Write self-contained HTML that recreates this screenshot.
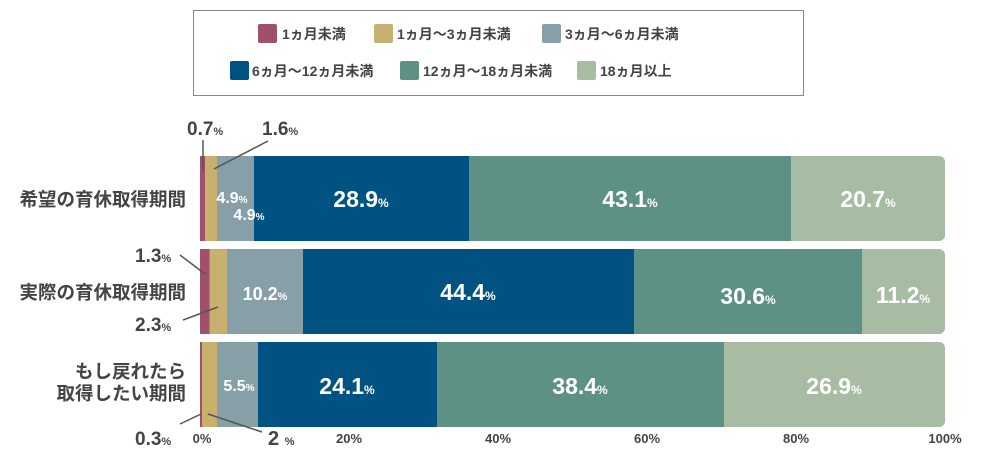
<!DOCTYPE html>
<html><head><meta charset="utf-8"><style>
body{margin:0;background:#fff;}
svg{display:block;font-family:"Liberation Sans","Noto Sans CJK JP",sans-serif;}
.l{font-size:18.5px;font-weight:bold;fill:#444;}
.lg{font-size:14px;font-weight:bold;fill:#444;}
.v{font-weight:bold;fill:#fff;}
.o{font-weight:bold;fill:#444;}
.ax{font-size:13px;font-weight:bold;fill:#444;}
</style></head><body>
<svg width="1000" height="450" viewBox="0 0 1000 450">
<defs>
<clipPath id="c1"><path d="M200 156H939a6 6 0 0 1 6 6V235a6 6 0 0 1-6 6H200Z"/></clipPath>
<clipPath id="c2"><path d="M200 249H939a6 6 0 0 1 6 6V328a6 6 0 0 1-6 6H200Z"/></clipPath>
<clipPath id="c3"><path d="M200 342H939a6 6 0 0 1 6 6V421a6 6 0 0 1-6 6H200Z"/></clipPath>
</defs>
<rect x="193.5" y="10.5" width="610" height="85" fill="#fff" stroke="#888"/>
<g class="lg">
<rect x="258" y="24" width="19" height="19" rx="2" fill="#a0506a"/><text x="282" y="39">1ヵ月未満</text>
<rect x="374" y="24" width="19" height="19" rx="2" fill="#c8b06e"/><text x="397" y="39">1ヵ月〜3ヵ月未満</text>
<rect x="542" y="24" width="19" height="19" rx="2" fill="#87a0a8"/><text x="565" y="39">3ヵ月〜6ヵ月未満</text>
<rect x="230" y="61" width="19" height="19" rx="2" fill="#005282"/><text x="252" y="76">6ヵ月〜12ヵ月未満</text>
<rect x="400" y="61" width="19" height="19" rx="2" fill="#5e9185"/><text x="423" y="76">12ヵ月〜18ヵ月未満</text>
<rect x="577" y="61" width="19" height="19" rx="2" fill="#a8bba3"/><text x="600" y="76">18ヵ月以上</text>
</g>
<g clip-path="url(#c1)">
<rect x="200" y="156" width="5" height="85" fill="#a0506a"/>
<rect x="205" y="156" width="12" height="85" fill="#c8b06e"/>
<rect x="217" y="156" width="37" height="85" fill="#87a0a8"/>
<rect x="254" y="156" width="215" height="85" fill="#005282"/>
<rect x="469" y="156" width="322" height="85" fill="#5e9185"/>
<rect x="791" y="156" width="154" height="85" fill="#a8bba3"/>
</g>
<g clip-path="url(#c2)">
<rect x="200" y="249" width="9.5" height="85" fill="#a0506a"/>
<rect x="209.5" y="249" width="17.5" height="85" fill="#c8b06e"/>
<rect x="227" y="249" width="76" height="85" fill="#87a0a8"/>
<rect x="303" y="249" width="331" height="85" fill="#005282"/>
<rect x="634" y="249" width="228" height="85" fill="#5e9185"/>
<rect x="862" y="249" width="83" height="85" fill="#a8bba3"/>
</g>
<g clip-path="url(#c3)">
<rect x="200" y="342" width="2" height="85" fill="#a0506a"/>
<rect x="202" y="342" width="15" height="85" fill="#c8b06e"/>
<rect x="217" y="342" width="41" height="85" fill="#87a0a8"/>
<rect x="258" y="342" width="179" height="85" fill="#005282"/>
<rect x="437" y="342" width="287" height="85" fill="#5e9185"/>
<rect x="724" y="342" width="221" height="85" fill="#a8bba3"/>
</g>
<g class="l" text-anchor="end">
<text x="186" y="206">希望の育休取得期間</text>
<text x="186" y="299">実際の育休取得期間</text>
<text x="186" y="378">もし戻れたら</text>
<text x="186" y="400">取得したい期間</text>
</g>
<g class="v" text-anchor="middle">
<text x="361" y="207" font-size="23">28.9<tspan font-size="12">%</tspan></text>
<text x="630" y="207" font-size="23">43.1<tspan font-size="12">%</tspan></text>
<text x="868" y="207" font-size="23">20.7<tspan font-size="12">%</tspan></text>
<text x="232" y="203" font-size="16">4.9<tspan font-size="10">%</tspan></text>
<text x="249" y="220" font-size="16">4.9<tspan font-size="10">%</tspan></text>
<text x="265" y="300" font-size="18">10.2<tspan font-size="11">%</tspan></text>
<text x="468" y="300" font-size="23">44.4<tspan font-size="12">%</tspan></text>
<text x="748" y="304" font-size="23">30.6<tspan font-size="12">%</tspan></text>
<text x="903" y="303" font-size="23">11.2<tspan font-size="12">%</tspan></text>
<text x="239" y="391" font-size="16">5.5<tspan font-size="10">%</tspan></text>
<text x="347" y="394" font-size="23">24.1<tspan font-size="12">%</tspan></text>
<text x="580" y="394" font-size="23">38.4<tspan font-size="12">%</tspan></text>
<text x="834" y="394" font-size="23">26.9<tspan font-size="12">%</tspan></text>
</g>
<g stroke="#555" stroke-width="1.5">
<line x1="203" y1="140" x2="203" y2="170"/>
<line x1="268" y1="141" x2="214" y2="169"/>
<line x1="180" y1="255" x2="205" y2="274"/>
<line x1="183" y1="320" x2="218" y2="307"/>
<line x1="180" y1="424" x2="201" y2="414"/>
<line x1="208" y1="414" x2="262" y2="432"/>
</g>
<g class="o">
<text x="187" y="135" font-size="19">0.7<tspan font-size="11">%</tspan></text>
<text x="262" y="135" font-size="19">1.6<tspan font-size="11">%</tspan></text>
<text x="135" y="262" font-size="19">1.3<tspan font-size="11">%</tspan></text>
<text x="135" y="331" font-size="19">2.3<tspan font-size="11">%</tspan></text>
<text x="135" y="445" font-size="19">0.3<tspan font-size="11">%</tspan></text>
<text x="268" y="445" font-size="20">2 <tspan font-size="11">%</tspan></text>
</g>
<g class="ax" text-anchor="middle">
<text x="202" y="443">0%</text>
<text x="349" y="443">20%</text>
<text x="498" y="443">40%</text>
<text x="647" y="443">60%</text>
<text x="796" y="443">80%</text>
<text x="945" y="443">100%</text>
</g>
</svg>
</body></html>
